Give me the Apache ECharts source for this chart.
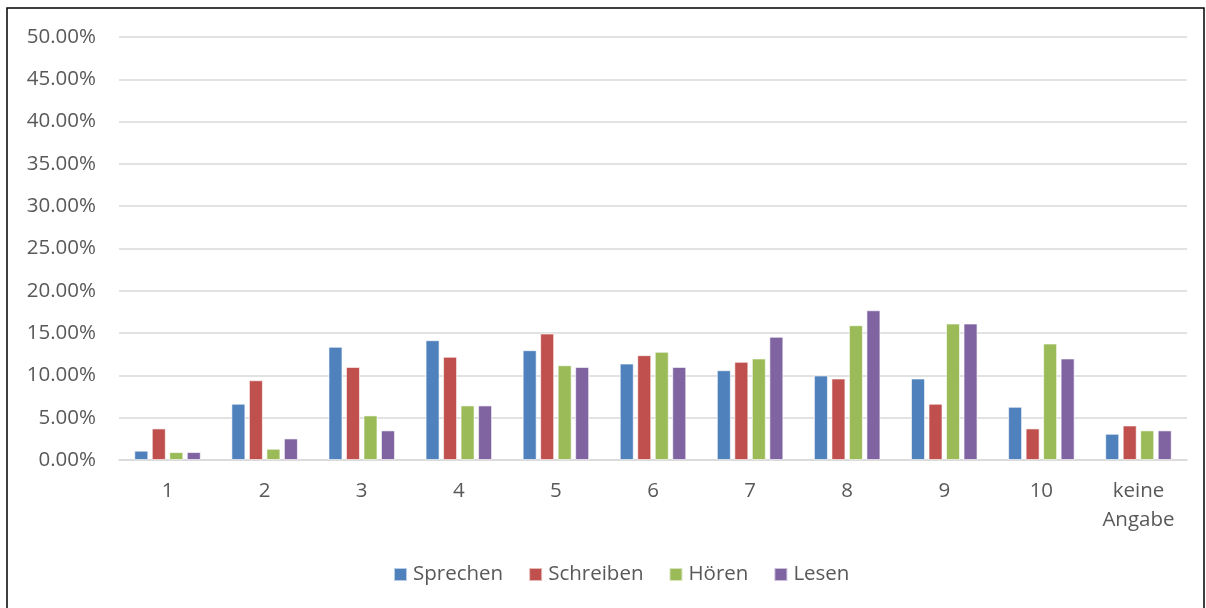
<!DOCTYPE html>
<html>
<head>
<meta charset="utf-8">
<title>Chart</title>
<script src="https://cdn.jsdelivr.net/npm/echarts@6/dist/echarts.min.js"></script>
<style>
	html, body { margin: 0; padding: 0; background: #fff; }
	#chart { width: 1206px; height: 608px; }
</style>
</head>
<body>
<div id="chart"></div>
<script>
// categories and values (percent)
var categories = ['1', '2', '3', '4', '5', '6', '7', '8', '9', '10', 'keine\nAngabe'];
var sprechen  = [1.1, 6.65, 13.38, 14.16, 12.98, 11.4, 10.61, 9.99, 9.63, 6.29, 3.1];
var schreiben = [3.73, 9.43, 11.0, 12.2, 14.95, 12.39, 11.6, 9.63, 6.65, 3.73, 4.08];
var hoeren    = [0.94, 1.33, 5.27, 6.45, 11.2, 12.79, 12.0, 15.93, 16.13, 13.77, 3.5];
var lesen     = [0.94, 2.55, 3.5, 6.45, 11.0, 11.0, 14.56, 17.7, 16.13, 12.0, 3.5];
var seriesNames = ['Sprechen', 'Schreiben', 'Hören', 'Lesen'];
var colors = ['#4F81BD', '#C0504D', '#9BBB59', '#8064A2'];

var textColor = '#595959';
var fontFam = '"Open Sans", sans-serif';
var fSize = 20.5;

var myChart = echarts.init(document.getElementById('chart'));

var allData = [sprechen, schreiben, hoeren, lesen];
var series = [];
for (var i = 0; i < seriesNames.length; i++) {
	series.push({
		name: seriesNames[i],
		type: 'bar',
		data: allData[i],
		barWidth: 14,
		barGap: '25%',
		itemStyle: {
			color: colors[i],
			borderColor: 'rgba(255,255,255,0.6)',
			borderWidth: 1
		}
	});
}

var option = {
	animation: false,
	color: colors,
	textStyle: { fontFamily: fontFam },
	graphic: [{
		type: 'rect',
		shape: { x: 7, y: 8, width: 1197, height: 620 },
		style: { fill: 'none', stroke: '#000', lineWidth: 1.5 },
		silent: true
	}],
	grid: {
		left: 119,
		right: 19,
		top: 37,
		bottom: 148
	},
	legend: {
		data: seriesNames,
		bottom: 18,
		left: 388,
		itemWidth: 13,
		itemHeight: 13,
		itemGap: 25,
		icon: 'rect',
		textStyle: { color: textColor, fontSize: fSize, fontFamily: fontFam, padding: [0, 0, 0, 1] }
	},
	xAxis: {
		type: 'category',
		data: categories,
		axisLine: { lineStyle: { color: '#d9d9d9', width: 1.5 } },
		axisTick: { show: false },
		axisLabel: {
			color: textColor,
			fontSize: fSize,
			fontFamily: fontFam,
			lineHeight: 29,
			margin: 17
		}
	},
	yAxis: {
		type: 'value',
		min: 0,
		max: 50,
		interval: 5,
		axisLine: { show: false },
		axisTick: { show: false },
		splitLine: { lineStyle: { color: '#d9d9d9', width: 1.5 } },
		axisLabel: {
			color: textColor,
			fontSize: fSize,
			fontFamily: fontFam,
			margin: 23,
			formatter: function(v) { return v.toFixed(2) + '%'; }
		}
	},
	series: series
};

myChart.setOption(option);
</script>
</body>
</html>
